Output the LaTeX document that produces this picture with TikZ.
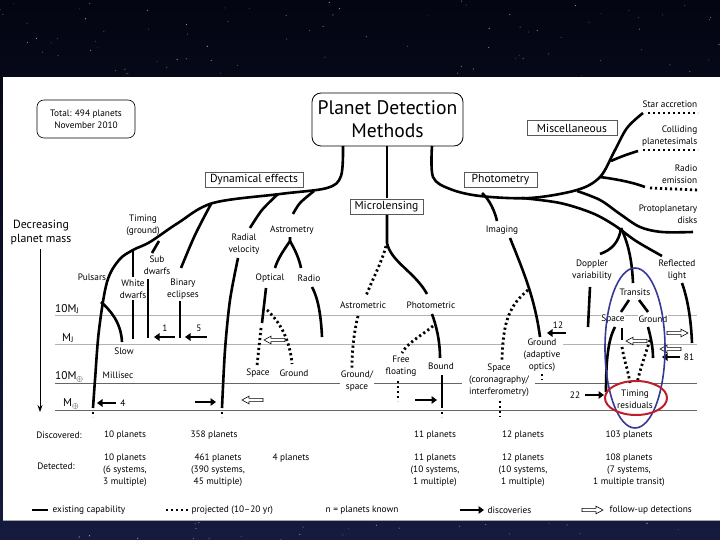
\documentclass[tikz,border=0pt]{standalone}
\usepackage{fontspec}
\setmainfont{PT Sans}
\usetikzlibrary{arrows.meta}
\definecolor{bgtop}{RGB}{4,5,18}
\definecolor{bgbot}{RGB}{22,26,62}
\definecolor{ellblue}{RGB}{55,55,150}
\definecolor{ellred}{RGB}{190,30,40}
\tikzset{
  ex/.style={line width=2.6pt},
  pj/.style={line width=2.8pt, dash pattern=on 2.2pt off 2.8pt},
  massa/.style={black!30, line width=0.9pt},
  massb/.style={black!60, line width=0.9pt},
  lbl/.style={font=\fontsize{9.3}{12}\selectfont, align=center, inner sep=0.5pt},
  lblw/.style={lbl, fill=white},
  lblr/.style={font=\fontsize{9.3}{12}\selectfont, align=right, inner sep=0.5pt, anchor=east},
  tbl/.style={font=\fontsize{9.3}{12}\selectfont, align=center, inner sep=0.5pt},
  cat/.style={draw=black!65, line width=0.7pt, font=\fontsize{11.6}{13}\selectfont, inner sep=1.5pt, minimum height=15pt},
  masslbl/.style={font=\fontsize{11.3}{13}\selectfont, anchor=west, inner sep=0pt},
  darr/.style={line width=2.3pt, -{Triangle[length=5.5pt,width=7.5pt]}},
  oarr/.pic={\draw[line width=0.6pt, fill=white, line join=miter] (0,-1.6) -- (14,-1.6) -- (14,-3.8) -- (21,0) -- (14,3.8) -- (14,1.6) -- (0,1.6) -- cycle;}
}
\begin{document}
\begin{tikzpicture}[x=1pt,y=-1pt]
\useasboundingbox (0,0) rectangle (720,540);
% background
\shade[top color=bgtop, bottom color=bgbot] (0,0) rectangle (720,540);
\pgfmathsetseed{7}
\foreach \i in {1,...,80}{
  \pgfmathsetmacro{\sx}{720*rnd}\pgfmathsetmacro{\sy}{76*rnd}\pgfmathsetmacro{\so}{0.2+0.5*rnd}
  \fill[white, opacity=\so] (\sx,\sy) circle[radius=0.55pt];}
\foreach \i in {1,...,25}{
  \pgfmathsetmacro{\sx}{720*rnd}\pgfmathsetmacro{\sy}{522+18*rnd}\pgfmathsetmacro{\so}{0.2+0.5*rnd}
  \fill[white, opacity=\so] (\sx,\sy) circle[radius=0.55pt];}
\fill[white] (3,77) rectangle (720,520);
\draw[black!35, line width=0.8pt] (3,520.4) -- (720,520.4);

% mass levels
\draw[massa] (55,315) -- (697,315);
\draw[massa] (55,344) -- (505,344) (563,344) -- (697,344);
\draw[massb] (55,383) -- (462,383) (535,383) -- (697,383);
\draw[massb] (55,410) -- (697,410);
\fill[white] (636,398) ellipse[x radius=31, y radius=17];
\node[masslbl] (mj10) at (55,309) {10M\textsubscript{J}};
\node[masslbl] (mj) at (62,338) {M\textsubscript{J}};
\node[masslbl] (me10) at (55,377) {10M\textsubscript{$\oplus$}};
\node[masslbl] (me) at (63,404) {M\textsubscript{$\oplus$}};
\node[font=\fontsize{11.8}{14}\selectfont, align=center] (decr) at (41,233) {Decreasing\\planet mass};
\draw[line width=0.8pt, -{Stealth[length=7pt,width=5pt]}] (40,249) -- (40,412);

% boxes
\node[draw, rounded corners=7pt, line width=0.6pt, minimum width=98pt, minimum height=38pt, font=\fontsize{9.3}{12}\selectfont, align=center] (total) at (86,119) {Total: 494 planets\\November 2010};
\node[draw, rounded corners=9pt, line width=0.8pt, minimum width=151pt, minimum height=53pt, font=\fontsize{19.6}{23}\selectfont, align=center] (title) at (387.5,119.5) {Planet Detection\\Methods};
\node[cat, minimum width=98pt] (dyn) at (254,180) {Dynamical effects};
\node[cat, minimum width=73pt] (micro) at (386.5,206.5) {Microlensing};
\node[cat, minimum width=73pt] (phot) at (500.5,179.5) {Photometry};
\node[cat, minimum width=90pt] (misc) at (572,128) {Miscellaneous};

% ---------- Dynamical effects ----------
\draw[ex] plot[smooth, tension=0.55] coordinates {(343,146) (341,176) (327,188) (280,194) (213,203) (178,223) (150,242) (133,250) (119,260) (107,282) (99,330) (95,380) (93,408)};
\draw[pj] (93,412) -- (93,417);
% sub dwarfs
\draw[ex] (159,241) -- (152,253);
\draw[ex] (148,279) -- (148,338);
% white dwarfs
\draw[ex] (133,251) -- (133,277);
\draw[ex] (133,300) -- (133,339);
% binary eclipses
\draw[ex] plot[smooth] coordinates {(211,204) (195,235) (181,268)};
\draw[ex] (180,301) -- (180,338);
% slow pulsars
\draw[ex] (101,302) .. controls (110,310) and (121,322) .. (122,342);
% radial velocity
\draw[ex] plot[smooth] coordinates {(278,194) (262,210) (250,228)};
\draw[ex] plot[smooth] coordinates {(238,258) (230,300) (225,350) (222,408)};
\draw[pj] (222,412) -- (222,417);
% astrometry
\draw[ex] plot[smooth] coordinates {(314,191) (300,203) (293,214)};
\draw[ex] (290,237) -- (290,241) .. controls (284,250) and (278,258) .. (275,268);
\draw[ex] (290,241) .. controls (295,250) and (299,258) .. (301,268);
\draw[ex] (312,287) .. controls (318,298) and (321,315) .. (322,337);
\draw[ex] (266,288) -- (262,323);
\draw[pj] (261,328) -- (257,366);
\draw[pj] (267,310) .. controls (280,322) and (290,340) .. (292,364);

% ---------- Microlensing ----------
\draw[ex] (387,146) -- (387,198);
\draw[ex] (387,215) -- (387,243) .. controls (391,262) and (415,272) .. (427,294);
\draw[pj] (386,246) .. controls (382,262) and (372,280) .. (366,296);
\draw[pj] (358,316) .. controls (354,332) and (352,350) .. (352,368);
\draw[ex] (432,314) .. controls (436,325) and (440,340) .. (440,358);
\draw[pj] (433,326) .. controls (424,334) and (408,342) .. (402,353);
\draw[ex] (442,375) -- (442,408);
\draw[pj] (442,412) -- (442,417);
\draw[pj] (398,381) -- (398,401);

% ---------- Photometry / Misc ----------
\draw[ex] plot[smooth, tension=0.55] coordinates {(432,146) (433,177) (450,189) (480,196) (530,198) (577,190) (600,177) (614,152) (627,128) (643,113)};
\draw[pj] (648,113) -- (698,113);
\draw[ex] (611,161) .. controls (620,157) and (628,154) .. (638,151);
\draw[pj] (643,150) -- (698,150);
\draw[ex] (600,177) .. controls (615,179) and (632,182) .. (645,187);
\draw[pj] (650,188) -- (698,190);
\draw[ex] plot[smooth, tension=0.55] coordinates {(577,191) (600,200) (620,214) (640,227) (662,232) (693,232)};
\draw[ex] plot[smooth, tension=0.55] coordinates {(522,198) (560,203) (592,213) (614,225) (636,241) (662,256)};
% doppler & transits
\draw[ex] (621,228) .. controls (619,243) and (611,250) .. (600,254);
\draw[ex] (621,228) .. controls (629,245) and (632,262) .. (633,283);
\draw[ex] (590,287) -- (588,327);
\draw[ex] (682,283) .. controls (688,300) and (691,320) .. (692,343);
\draw[ex] (629,300) -- (621,312);
\draw[ex] (639,300) -- (648,312);
\draw[ex] (615,327) .. controls (608,340) and (606,360) .. (606,392);
\draw[ex] (622,328) -- (622,340);
\draw[pj] (622,347) .. controls (624,360) and (628,370) .. (630,383);
\draw[ex] (648,327) .. controls (651,338) and (653,348) .. (653,358);
\draw[pj] (650,340) .. controls (645,355) and (640,370) .. (637,383);
% imaging
\draw[ex] (482,193) .. controls (490,200) and (495,212) .. (497,221);
\draw[ex] (510,238) .. controls (525,275) and (535,300) .. (540,337);
\draw[pj] (528,290) .. controls (510,305) and (503,320) .. (502,360);
\draw[pj] (500,401) -- (500,417);
\draw[pj] (542,374) -- (542,380);

% ---------- labels ----------
\node[lbl] (timing) at (143,225) {Timing\\(ground)};
\node[lbl] (subd) at (157,265) {Sub\\dwarfs};
\node[lbl] (whited) at (133,289) {White\\dwarfs};
\node[lbl] (bine) at (183,289) {Binary\\eclipses};
\node[lbl] (pulsars) at (92,277) {Pulsars};
\node[lbl] (radvel) at (244,244) {Radial\\velocity};
\node[lbl] (astrom) at (292,230) {Astrometry};
\node[lbl] (optical) at (270,278) {Optical};
\node[lbl] (radio) at (309,278) {Radio};
\node[lbl] (slow) at (124,351) {Slow};
\node[lbl] (millisec) at (118,375) {Millisec};
\node[lbl] (space1) at (258,373) {Space};
\node[lbl] (ground1) at (294,373) {Ground};
\node[lbl] (mastrom) at (363,305) {Astrometric};
\node[lbl] (mphot) at (431,305) {Photometric};
\node[lblw] (gspace) at (357,381) {Ground/\\space};
\node[lbl] (freefl) at (401,366) {Free\\floating};
\node[lbl] (bound) at (441,366) {Bound};
\node[lbl] (imaging) at (502,230) {Imaging};
\node[lblw] (gao) at (542,355) {Ground\\(adaptive\\optics)};
\node[lblw] (spcor) at (499,380) {Space\\(coronagraphy/\\interferometry)};
\node[lbl] (doppler) at (592,270) {Doppler\\variability};
\node[lbl] (reflected) at (677,270) {Reflected\\light};
\node[lbl] (transits) at (635,292) {Transits};
\node[lblw] (tspace) at (613,319) {Space};
\node[lblw] (tground) at (653,319) {Ground};
\node[lblw] (timres) at (635,399) {Timing\\residuals};
\node[lblr] (staracc) at (698,104) {Star accretion};
\node[lblr] (colliding) at (698,136) {Colliding\\planetesimals};
\node[lblr] (radioem) at (698,174) {Radio\\emission};
\node[lblr] (proto) at (698,214) {Protoplanetary\\disks};

% ---------- arrows ----------
\draw[darr] (116,403) -- (97,403);
\node[lbl] (n4) at (123,403) {4};
\draw[darr] (175,337) -- (154,337);
\node[lbl] (n1) at (165,328) {1};
\draw[darr] (207,337) -- (185,337);
\node[lbl] (n5) at (199,328) {5};
\draw[darr] (195,402) -- (216,402);
\pic[rotate=180] at (263,400) {oarr};
\pic[rotate=180] at (285,340) {oarr};
\draw[darr] (415,400) -- (437,400);
\draw[darr] (566,333) -- (547,333);
\node[lbl] (n12) at (558,325) {12};
\draw[darr] (585,395) -- (604,395);
\node[lbl] (n22) at (575,395) {22};
\pic[rotate=180] at (647,341) {oarr};
\pic at (667,333) {oarr};
\pic[rotate=180] at (681,349) {oarr};
\draw[darr] (680,357) -- (662,357);
\node[lbl] (n81) at (689,357) {81};

% ---------- ellipses ----------
\draw[ellblue, line width=1.6pt] (635,348) ellipse[x radius=30, y radius=80];
\draw[ellred, line width=2pt] (636,398) ellipse[x radius=31, y radius=17];

% ---------- table ----------
\node[tbl] (disc) at (59,435) {Discovered:};
\node[tbl] (det) at (56,466) {Detected:};
\node[tbl] (d1) at (125,435) {10 planets};
\node[tbl] (d2) at (214,435) {358 planets};
\node[tbl] (d3) at (435,435) {11 planets};
\node[tbl] (d4) at (523,435) {12 planets};
\node[tbl] (d5) at (629,435) {103 planets};
\node[tbl] (e1) at (125,470) {10 planets\\(6 systems,\\3 multiple)};
\node[tbl] (e2) at (218,470) {461 planets\\(390 systems,\\45 multiple)};
\node[tbl] (e3) at (291,458) {4 planets};
\node[tbl] (e4) at (435,470) {11 planets\\(10 systems,\\1 multiple)};
\node[tbl] (e5) at (523,470) {12 planets\\(10 systems,\\1 multiple)};
\node[tbl] (e6) at (629,470) {108 planets\\(7 systems,\\1 multiple transit)};

% ---------- legend ----------
\draw[ex] (32,510) -- (48,510);
\node[tbl, anchor=west] (l1) at (52,510) {existing capability};
\draw[pj] (166,510) -- (188,510);
\node[tbl, anchor=west] (l2) at (191,510) {projected (10–20 yr)};
\node[tbl, anchor=west] (l3) at (325,510) {n = planets known};
\draw[darr] (460,510) -- (484,510);
\node[tbl, anchor=west] (l4) at (487,510) {discoveries};
\pic at (582,510) {oarr};
\node[tbl, anchor=west] (l5) at (609,510) {follow-up detections};
\end{tikzpicture}
\end{document}
